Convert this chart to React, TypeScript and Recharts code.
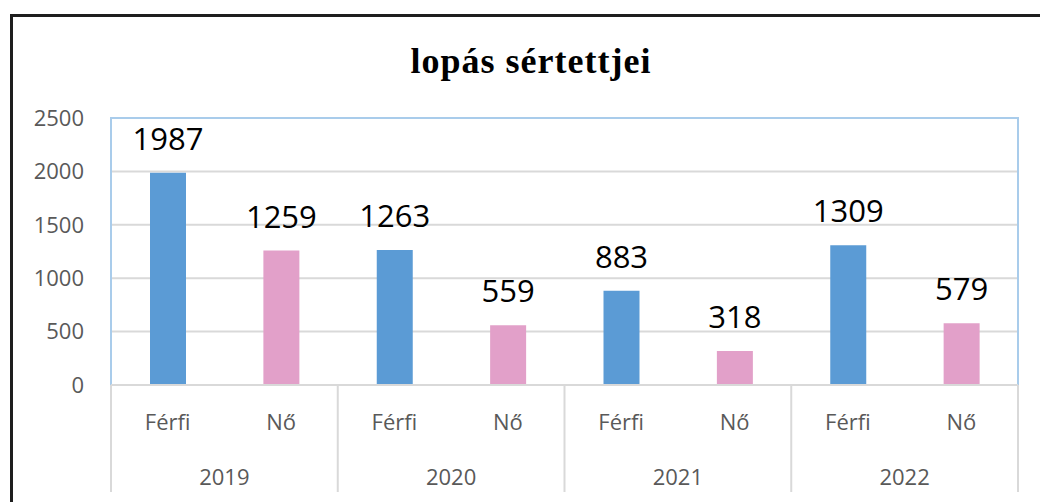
import { Bar, BarChart, CartesianGrid, Cell, LabelList, ReferenceArea, XAxis, YAxis } from 'recharts'

const years = ['2019', '2020', '2021', '2022']
const sexes = ['Férfi', 'Nő']
const ferfiValues = [1987, 1263, 883, 1309]
const noValues = [1259, 559, 318, 579]
const yTicks = [0, 500, 1000, 1500, 2000, 2500]

const BLUE = '#5B9BD5'
const PINK = '#E2A0C9'
const FONT = '"Open Sans", "Noto Sans", sans-serif'

const data = years.flatMap((year, i) => [
    { id: `${year}-${sexes[0]}`, year, sex: sexes[0], value: ferfiValues[i], color: BLUE },
    { id: `${year}-${sexes[1]}`, year, sex: sexes[1], value: noValues[i], color: PINK },
])

const W = 1040
const H = 502
const M = { top: 118, right: 22, bottom: 0, left: 0 }
const Y_W = 111
const X_H = 117
const BAND = (W - M.right - Y_W) / data.length

function CategoryTick(props: any) {
    const { x, y, payload } = props
    const row = data[payload.index]
    const half = BAND / 2
    const isLast = payload.index === data.length - 1
    return (
        <g>
            <text x={x} y={y + 45} textAnchor="middle" fill="#595959" fontSize={22} fontFamily={FONT}>
                {row.sex}
            </text>
            {row.sex === sexes[0] && (
                <>
                    <text x={x + half} y={y + 100} textAnchor="middle" fill="#595959" fontSize={22} fontFamily={FONT}>
                        {row.year}
                    </text>
                    <line x1={x - half} x2={x - half} y1={y} y2={y + 107} stroke="#D9D9D9" strokeWidth={2} />
                </>
            )}
            {isLast && <line x1={x + half} x2={x + half} y1={y} y2={y + 107} stroke="#D9D9D9" strokeWidth={2} />}
        </g>
    )
}

export default function App() {
    return (
        <div style={{ position: 'fixed', left: 0, top: 0, width: W, height: H, overflow: 'hidden', background: '#fff' }}>
            <BarChart width={W} height={H} data={data} margin={M} accessibilityLayer={false}>
                <CartesianGrid vertical={false} stroke="#D9D9D9" strokeWidth={2} />
                <ReferenceArea y1={0} y2={2500} fill="none" stroke="#A9CCEB" strokeWidth={2} ifOverflow="visible" />
                <YAxis
                    width={Y_W}
                    domain={[0, 2500]}
                    ticks={yTicks}
                    axisLine={false}
                    tickLine={false}
                    tickSize={0}
                    tickMargin={27}
                    tick={{ fill: '#595959', fontSize: 22, fontFamily: FONT }}
                />
                <XAxis
                    dataKey="id"
                    height={X_H}
                    axisLine={{ stroke: '#D9D9D9', strokeWidth: 2 }}
                    tickLine={false}
                    tickSize={0}
                    tickMargin={0}
                    interval={0}
                    tick={<CategoryTick />}
                />
                <Bar dataKey="value" barSize={36} isAnimationActive={false}>
                    {data.map((d, i) => (
                        <Cell key={`c-${i}`} fill={d.color} />
                    ))}
                    <LabelList dataKey="value" position="top" offset={23} fill="#000" fontSize={31} fontFamily={FONT} />
                </Bar>
            </BarChart>
            <svg width={W} height={H} style={{ position: 'absolute', left: 0, top: 0, pointerEvents: 'none' }}>
                <line x1={11.5} y1={15} x2={11.5} y2={H} stroke="#1e1e1e" strokeWidth={3} />
                <line x1={10} y1={15.5} x2={W} y2={15.5} stroke="#1e1e1e" strokeWidth={3} />
                <text
                    x={531}
                    y={73}
                    textAnchor="middle"
                    fontFamily='"Liberation Serif", "Times New Roman", serif'
                    fontWeight="bold"
                    fontSize={36}
                    letterSpacing={1}
                    fill="#000"
                >
                    lopás sértettjei
                </text>
            </svg>
        </div>
    )
}
